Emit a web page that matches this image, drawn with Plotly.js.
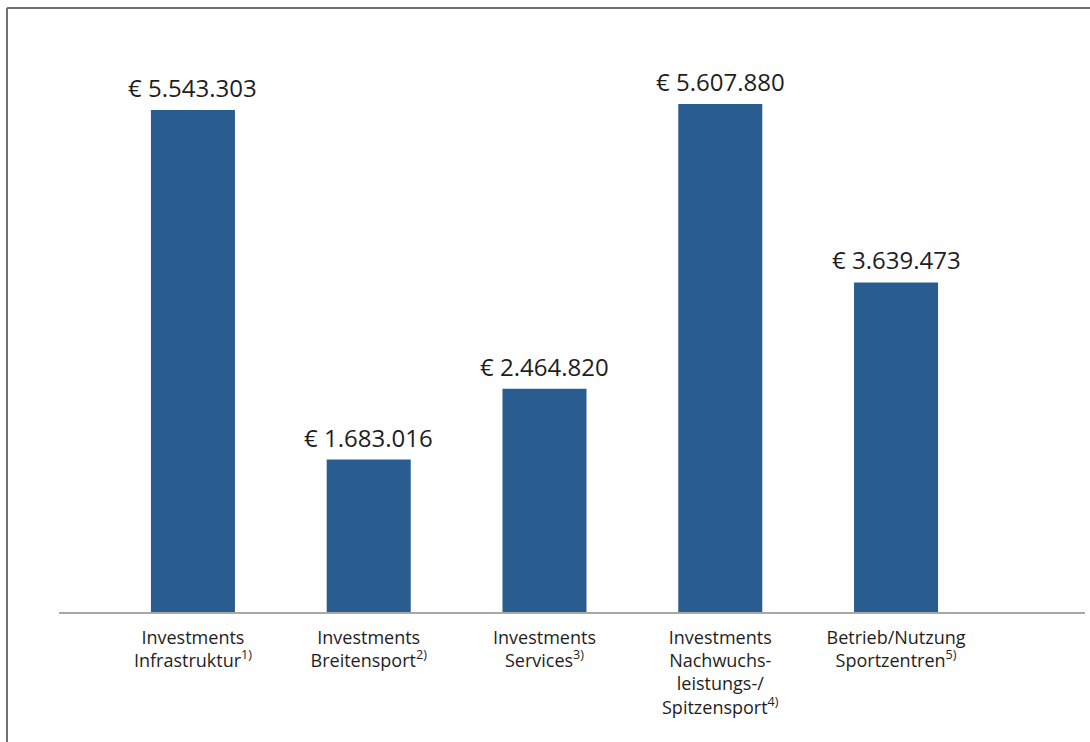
<!DOCTYPE html>
<html><head><meta charset="utf-8">
<script src="https://cdn.plot.ly/plotly-3.0.1.min.js"></script>
<style>html,body{margin:0;padding:0;background:#fff}#chart{width:1090px;height:742px}</style>
</head><body><div id="chart"></div>
<script>
const categories = [
  "Investments<br>Infrastruktur<sup>1)</sup>",
  "Investments<br>Breitensport<sup>2)</sup>",
  "Investments<br>Services<sup>3)</sup>",
  "Investments<br>Nachwuchs-<br>leistungs-/<br>Spitzensport<sup>4)</sup>",
  "Betrieb/Nutzung<br>Sportzentren<sup>5)</sup>"
];
const values = [5543303, 1683016, 2464820, 5607880, 3639473];
const xpos = categories.map((c, i) => i);

function fmt(v){ return "€ " + String(v).replace(/\B(?=(\d{3})+(?!\d))/g, "."); }

const FONT = "'Open Sans', sans-serif";

const trace = {
  type: "bar", x: xpos, y: values, width: 0.478,
  marker: {color: "#2a5d8f"}, hoverinfo: "none"
};

const annotations = values.map((v, i) => ({
  x: xpos[i], y: v, xref: "x", yref: "y", text: fmt(v), showarrow: false,
  yanchor: "bottom", yshift: 4, font: {family: FONT, size: 24, color: "#1e1e1e"}
}));

const layout = {
  width: 1090, height: 742,
  margin: {l: 59, r: 5, t: 60, b: 130},
  paper_bgcolor: "#fff", plot_bgcolor: "#fff",
  showlegend: false,
  font: {family: FONT, color: "#1e1e1e"},
  xaxis: {
    range: [-0.762, 5.075], tickvals: xpos, ticktext: categories,
    showgrid: false, zeroline: false, showline: true, linecolor: "#a8a8a8", linewidth: 2,
    ticks: "", ticklabelstandoff: 8,
    tickfont: {family: FONT, size: 18, color: "#1e1e1e"}, fixedrange: true
  },
  yaxis: {range: [0, 6095000], visible: false, showgrid: false, zeroline: false, fixedrange: true},
  annotations: annotations,
  shapes: [
    {type: "line", xref: "paper", yref: "paper", x0: -0.0507, x1: -0.0507, y0: 1.094, y1: -0.3, line: {color: "#707070", width: 2}},
    {type: "line", xref: "paper", yref: "paper", x0: -0.0507, x1: 1.01, y0: 1.094, y1: 1.094, line: {color: "#707070", width: 2}}
  ]
};

Plotly.newPlot("chart", [trace], layout, {displayModeBar: false, staticPlot: true});
</script></body></html>
